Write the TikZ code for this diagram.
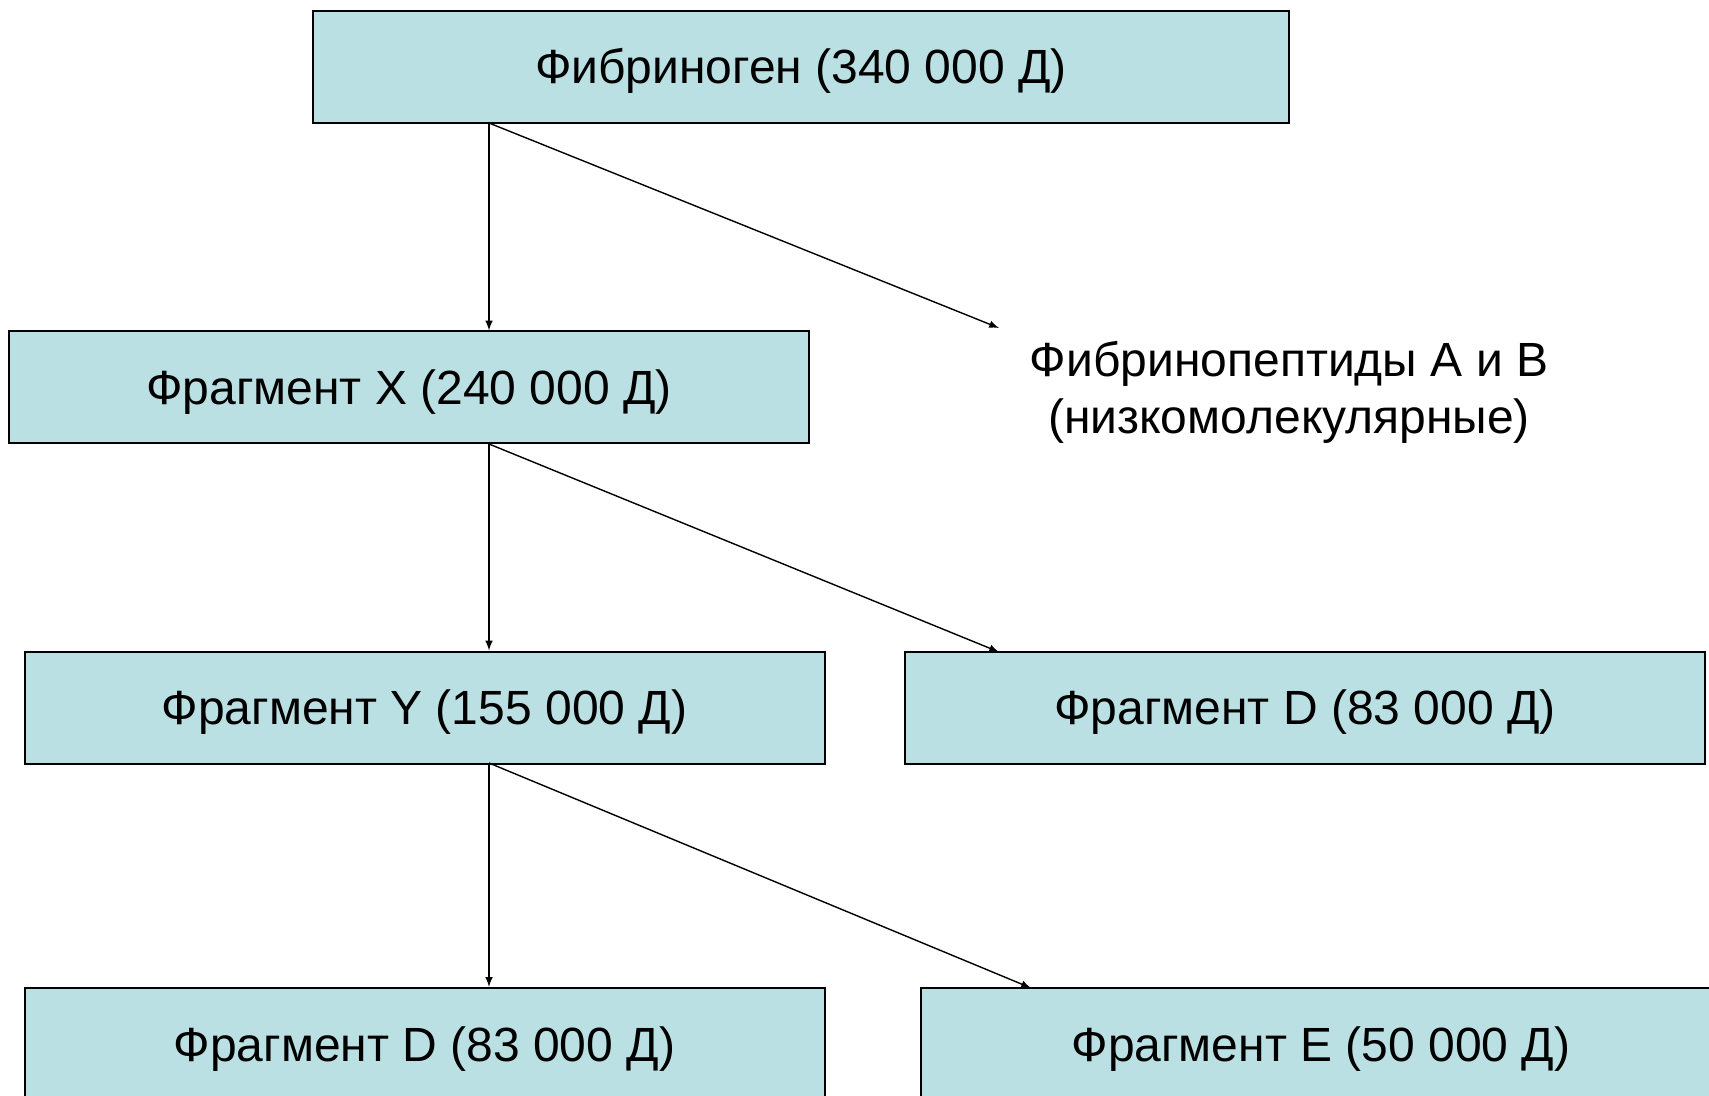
\documentclass[tikz,border=0pt]{standalone}
\usepackage{fontspec}
\setmainfont{Liberation Sans}
\definecolor{boxfill}{HTML}{BBE0E3}
\begin{document}
\begin{tikzpicture}[x=0.5pt,y=-0.5pt,
  box/.style={draw=black,line width=1pt,fill=boxfill,minimum width=400pt,minimum height=56pt,inner sep=0pt,text height=22pt,text depth=5pt,font=\fontsize{24}{28.5}\selectfont},
  arr/.style={line width=0.7pt,-latex}]

\clip (0,0) rectangle (1709,1096);

\node [box,minimum width=488pt] (fbg) at (801,67) {Фибриноген (340 000 Д)};
\node [box] (fx) at (409,387.5) {Фрагмент X (240 000 Д)};
\node [box] (fy) at (424.5,707.5) {Фрагмент Y (155 000 Д)};
\node [box] (fd1) at (1305,707.5) {Фрагмент D (83 000 Д)};
\node [box] (fd2) at (424.5,1044) {Фрагмент D (83 000 Д)};
\node [box] (fe) at (1321,1044) {Фрагмент E (50 000 Д)};
\node [align=center,font=\fontsize{24}{28.5}\selectfont] (pept) at (1289,392) {Фибринопептиды А и В\\(низкомолекулярные)};

\coordinate (s1) at (489,123);
\coordinate (s2) at (489,444);
\coordinate (s3) at (489,763);
\coordinate (e1) at (999,328);
\coordinate (e2) at (999,652);
\coordinate (e3) at (1031,988);

\draw [arr](s1) -- (s1 |- fx.north);
\draw [arr](s1) -- (e1);
\draw [arr](s2) -- (s2 |- fy.north);
\draw [arr](s2) -- (e2);
\draw [arr](s3) -- (s3 |- fd2.north);
\draw [arr](s3) -- (e3);
\end{tikzpicture}
\end{document}
